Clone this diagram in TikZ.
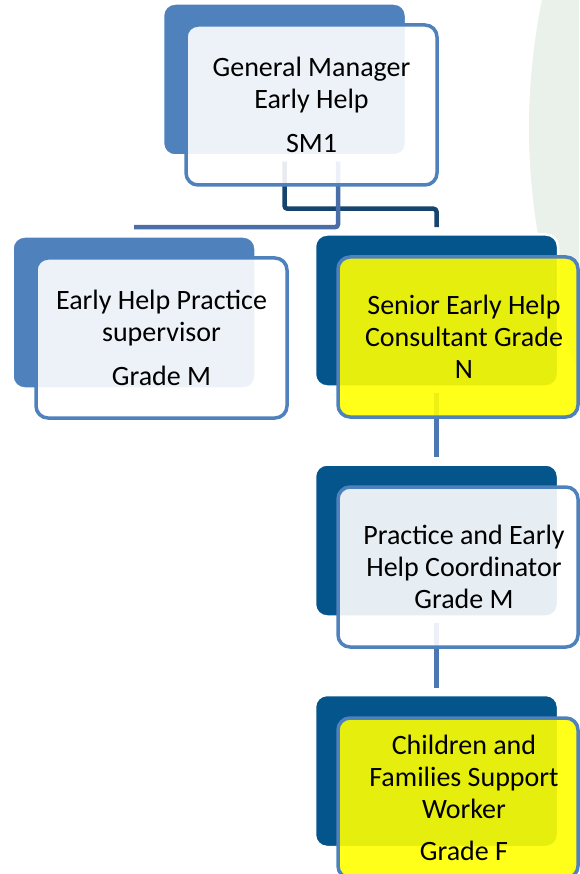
\documentclass[tikz,border=0pt]{standalone}
\usepackage{fontspec}
\setmainfont{Carlito}
\usetikzlibrary{positioning, calc}

\definecolor{backLight}{HTML}{4F81BD}
\definecolor{backDark}{HTML}{03558C}
\definecolor{frameBlue}{HTML}{4F81BD}
\definecolor{linkNavy}{HTML}{17436F}
\definecolor{linkSteel}{HTML}{4A6FA8}
\definecolor{linkMid}{HTML}{4B78B3}
\definecolor{paleGreen}{HTML}{E9F1EA}
\definecolor{roleYellow}{HTML}{FFFF00}

\tikzset{
    backbox/.style={rectangle, rounded corners=12pt, draw=white, line width=2.5pt,
        minimum width=243pt, minimum height=152pt, inner sep=0pt},
    frontbox/.style={rectangle, rounded corners=12pt, draw=frameBlue, line width=3.5pt,
        fill opacity=0.9, minimum height=160pt, inner sep=0pt},
    roletext/.style={align=center, font=\fontsize{28}{32}\selectfont, text=black, inner sep=0pt},
    link/.style={line width=4.5pt, rounded corners=3pt},
}

\begin{document}
\begin{tikzpicture}[x=1pt, y=-1pt]
        \useasboundingbox (0,0) rectangle (579,874);

        % Faint green disc behind the chart
        \begin{scope}
            \clip (0,0) rectangle (579,874);
            \fill[paleGreen] (1159,128) circle (630);
        \end{scope}

        % Back boxes
        \node[backbox, fill=backLight] (gm-back) at (284.5,79.5) {};
        \node[backbox, fill=backLight] (ehps-back) at (134,312.5) {};
        \foreach \n/\y in {senior/310.5, coord/540.5, cfsw/771} {
            \node[backbox, fill=backDark] (\n-back) at (436.5,\y) {};
        }

        % Connectors
        \draw[link, linkNavy] ([yshift=-5pt]gm-back.south) -- ++(0,47) -| ([yshift=6pt]senior-back.north);
        \draw[link, linkSteel] ([xshift=53.5pt, yshift=-5pt]gm-back.south) |- ([yshift=8pt]ehps-back.north);
        \draw[link, linkMid] ([yshift=-5pt]senior-back.south) -- ([yshift=6pt]coord-back.north);
        \draw[link, linkMid] ([yshift=-5pt]coord-back.south) -- ([yshift=6pt]cfsw-back.north);

        % Front boxes
        \node[frontbox, fill=white, minimum width=251pt] (gm-front) at (311.5,105) {};
        \node[frontbox, fill=white, minimum width=251pt] (ehps-front) at (161.5,338) {};
        \node[frontbox, fill=roleYellow, minimum width=240pt] (senior-front) at (458,337) {};
        \node[frontbox, fill=white, minimum width=240pt] (coord-front) at (458,567) {};
        \node[frontbox, fill=roleYellow, minimum width=240pt] (cfsw-front) at (458,798) {};

        % Role texts
        \node[roletext] (gm-text) at (gm-front.center) {General Manager\\Early Help\\[12pt]SM1};
        \node[roletext] (ehps-text) at (ehps-front.center) {Early Help Practice\\supervisor\\[12pt]Grade M};
        \node[roletext] (senior-text) at ([xshift=6pt]senior-front.center) {Senior Early Help\\Consultant Grade\\N};
        \node[roletext] (coord-text) at ([xshift=6pt]coord-front.center) {Practice and Early\\Help Coordinator\\Grade M};
        \node[roletext] (cfsw-text) at ([xshift=6pt]cfsw-front.center) {Children and\\Families Support\\Worker\\[10pt]Grade F};
    \end{tikzpicture}
\end{document}
